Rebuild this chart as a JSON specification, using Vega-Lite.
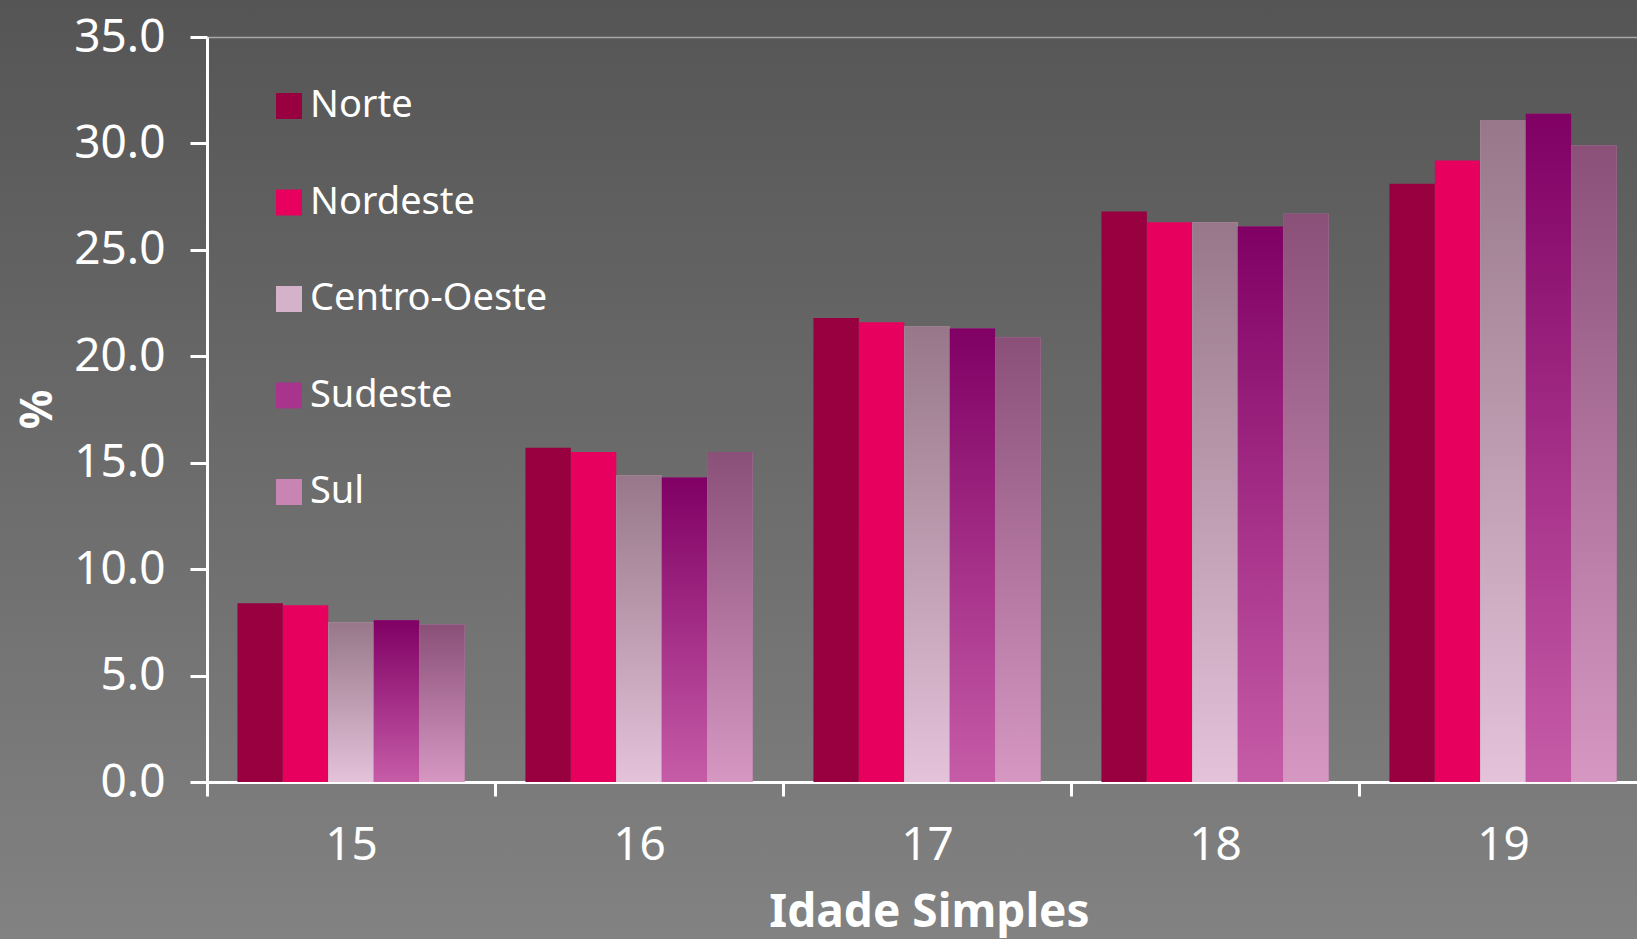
{
  "$schema": "https://vega.github.io/schema/vega-lite/v6.json",
  "width": 1637,
  "height": 939,
  "autosize": {"type": "none"},
  "padding": 0,
  "background": "#6b6b6b",
  "config": {
    "font": "Noto Sans",
    "view": {
      "stroke": null,
      "fill": {"gradient": "linear", "x1": 0, "y1": 0, "x2": 0, "y2": 1, "stops": [{"offset": 0, "color": "#555555"}, {"offset": 1, "color": "#828282"}]}
    }
  },
  "data": {
    "values": [
      {"age": "15", "region": "Norte", "pct": 8.4},
      {"age": "15", "region": "Nordeste", "pct": 8.3},
      {"age": "15", "region": "Centro-Oeste", "pct": 7.5},
      {"age": "15", "region": "Sudeste", "pct": 7.6},
      {"age": "15", "region": "Sul", "pct": 7.4},
      {"age": "16", "region": "Norte", "pct": 15.7},
      {"age": "16", "region": "Nordeste", "pct": 15.5},
      {"age": "16", "region": "Centro-Oeste", "pct": 14.4},
      {"age": "16", "region": "Sudeste", "pct": 14.3},
      {"age": "16", "region": "Sul", "pct": 15.5},
      {"age": "17", "region": "Norte", "pct": 21.8},
      {"age": "17", "region": "Nordeste", "pct": 21.6},
      {"age": "17", "region": "Centro-Oeste", "pct": 21.4},
      {"age": "17", "region": "Sudeste", "pct": 21.3},
      {"age": "17", "region": "Sul", "pct": 20.9},
      {"age": "18", "region": "Norte", "pct": 26.8},
      {"age": "18", "region": "Nordeste", "pct": 26.3},
      {"age": "18", "region": "Centro-Oeste", "pct": 26.3},
      {"age": "18", "region": "Sudeste", "pct": 26.1},
      {"age": "18", "region": "Sul", "pct": 26.7},
      {"age": "19", "region": "Norte", "pct": 28.1},
      {"age": "19", "region": "Nordeste", "pct": 29.2},
      {"age": "19", "region": "Centro-Oeste", "pct": 31.1},
      {"age": "19", "region": "Sudeste", "pct": 31.4},
      {"age": "19", "region": "Sul", "pct": 29.9}
    ]
  },
  "encoding": {
    "x": {
      "field": "age",
      "type": "ordinal",
      "scale": {"range": [207, 1647], "paddingInner": 0, "paddingOuter": 0},
      "axis": {
        "orient": "bottom",
        "offset": -157,
        "tickBand": "extent",
        "grid": false,
        "domainColor": "white",
        "domainWidth": 3,
        "tickColor": "white",
        "tickWidth": 3,
        "tickSize": 14,
        "labelColor": "white",
        "labelFontSize": 46,
        "labelPadding": 27,
        "labelAngle": 0,
        "title": "Idade Simples",
        "titleColor": "white",
        "titleFontSize": 46,
        "titleFontWeight": "bold",
        "titleX": 929,
        "titleY": 130,
        "titleAlign": "center",
        "titleBaseline": "middle"
      }
    },
    "xOffset": {
      "field": "region",
      "type": "nominal",
      "sort": ["Norte", "Nordeste", "Centro-Oeste", "Sudeste", "Sul"],
      "scale": {"domain": ["Norte", "Nordeste", "Centro-Oeste", "Sudeste", "Sul"], "paddingInner": 0, "paddingOuter": 0.67}
    },
    "y": {
      "field": "pct",
      "type": "quantitative",
      "scale": {"domain": [0, 35], "range": [782, 37], "nice": false, "zero": true},
      "axis": {
        "values": [0, 5, 10, 15, 20, 25, 30, 35],
        "format": ".1f",
        "offset": -207,
        "domainColor": "white",
        "domainWidth": 3,
        "tickColor": "white",
        "tickWidth": 3,
        "tickSize": 17,
        "labelColor": "white",
        "labelFontSize": 46,
        "labelPadding": 25,
        "grid": true,
        "gridColor": "#a8a8a8",
        "gridWidth": 1.5,
        "gridOpacity": {"condition": {"test": "datum.value == 35", "value": 1}, "value": 0},
        "title": "%",
        "titleColor": "white",
        "titleFontSize": 44,
        "titleFontWeight": "bold",
        "titleAngle": -90,
        "titleX": -169,
        "titleY": 409,
        "titleAlign": "center",
        "titleBaseline": "middle"
      }
    }
  },
  "layer": [
    {
      "mark": {"type": "bar"},
      "encoding": {
        "color": {
          "field": "region",
          "type": "nominal",
          "sort": ["Norte", "Nordeste", "Centro-Oeste", "Sudeste", "Sul"],
          "scale": {"domain": ["Norte", "Nordeste", "Centro-Oeste", "Sudeste", "Sul"], "range": ["#990040", "#e8005f", "#d4b2c9", "#a8348e", "#c884b3"]},
          "legend": {
            "orient": "none",
            "legendX": 270,
            "legendY": 87,
            "title": null,
            "symbolType": "square",
            "symbolSize": 676,
            "symbolStrokeWidth": 0,
            "symbolOpacity": 1,
            "labelFontSize": 38,
            "labelColor": "white",
            "labelOffset": 2,
            "labelLimit": 0,
            "rowPadding": 58.5
          }
        }
      }
    },
    {
      "transform": [{"filter": "datum.region == 'Centro-Oeste'"}],
      "mark": {"type": "bar", "color": {"gradient": "linear", "x1": 0, "y1": 0, "x2": 0, "y2": 1, "stops": [{"offset": 0, "color": "#977789"}, {"offset": 1, "color": "#e4c2da"}]}}
    },
    {
      "transform": [{"filter": "datum.region == 'Sudeste'"}],
      "mark": {"type": "bar", "color": {"gradient": "linear", "x1": 0, "y1": 0, "x2": 0, "y2": 1, "stops": [{"offset": 0, "color": "#800064"}, {"offset": 1, "color": "#c65ca8"}]}}
    },
    {
      "transform": [{"filter": "datum.region == 'Sul'"}],
      "mark": {"type": "bar", "color": {"gradient": "linear", "x1": 0, "y1": 0, "x2": 0, "y2": 1, "stops": [{"offset": 0, "color": "#8a5078"}, {"offset": 1, "color": "#d698c3"}]}}
    }
  ]
}
